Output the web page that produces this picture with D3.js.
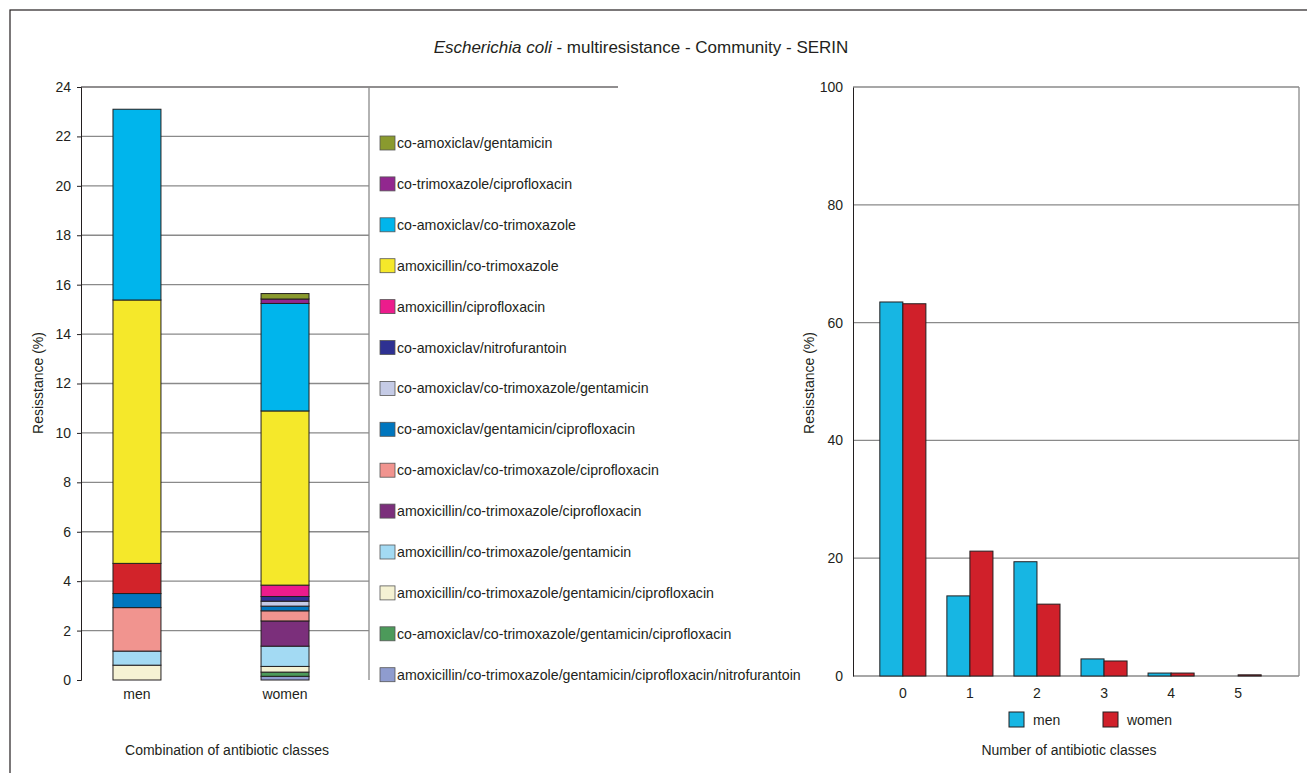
<!DOCTYPE html>
<html>
<head>
<meta charset="utf-8">
<script src="https://cdn.jsdelivr.net/npm/d3@7"></script>
<style>
  body { margin: 0; background: #fff; }
  text { font-family: "Liberation Sans", Arial, sans-serif; fill: #231f20; }
</style>
</head>
<body>
<svg id="chart" width="1307" height="773"></svg>
<script>
// left chart: stacked combinations (bottom to top)
let groups = ['men', 'women'];
let comboNames = [
  'amoxicillin/co-trimoxazole/gentamicin/ciprofloxacin/nitrofurantoin',
  'co-amoxiclav/co-trimoxazole/gentamicin/ciprofloxacin',
  'amoxicillin/co-trimoxazole/gentamicin/ciprofloxacin',
  'amoxicillin/co-trimoxazole/gentamicin',
  'amoxicillin/co-trimoxazole/ciprofloxacin',
  'co-amoxiclav/co-trimoxazole/ciprofloxacin',
  'co-amoxiclav/gentamicin/ciprofloxacin',
  '',  // red segment, no legend entry in the original
  'co-amoxiclav/co-trimoxazole/gentamicin',
  'co-amoxiclav/nitrofurantoin',
  'amoxicillin/ciprofloxacin',
  'amoxicillin/co-trimoxazole',
  'co-amoxiclav/co-trimoxazole',
  'co-trimoxazole/ciprofloxacin',
  'co-amoxiclav/gentamicin'
];
let comboColors = ['#8f9ccf', '#4c9a5a', '#f5f2d3', '#a3daf3', '#7b2f7b', '#f1948f', '#0076be', '#d2232a',
  '#c5cbe6', '#2e3192', '#ec1c8c', '#f5e82a', '#00b5ec', '#92278f', '#8a9a2e'];
let menValues   = [0, 0, 0.6, 0.57, 0, 1.76, 0.57, 1.22, 0, 0, 0, 10.66, 7.72, 0, 0];
let womenValues = [0.15, 0.17, 0.23, 0.82, 1.02, 0.41, 0.19, 0, 0.2, 0.19, 0.46, 7.05, 4.35, 0.18, 0.22];
let leftTicks = [0, 2, 4, 6, 8, 10, 12, 14, 16, 18, 20, 22, 24];

// right chart: number of classes
let classCounts = ['0', '1', '2', '3', '4', '5'];
let menByCount   = [63.5, 13.6, 19.4, 2.9, 0.5, 0];
let womenByCount = [63.2, 21.2, 12.2, 2.55, 0.5, 0.2];
let rightTicks = [0, 20, 40, 60, 80, 100];
let sexColors = ['#17b6e3', '#d0202a'];

let svg = d3.select('#chart');

// outer frame (runs off the right and bottom edges)
svg.append('rect').attr('x', 10).attr('y', 10).attr('width', 1320).attr('height', 800)
  .attr('fill', 'none').attr('stroke', '#231f20').attr('stroke-width', 1.2);

let title = svg.append('text').attr('x', 641).attr('y', 53).attr('text-anchor', 'middle')
  .style('font-size', '17px');
title.append('tspan').style('font-style', 'italic').text('Escherichia coli');
title.append('tspan').text(' - multiresistance - Community - SERIN');

// ---------- left chart ----------
let y1 = d3.scaleLinear().domain([0, 24]).range([680, 87]);
let x1 = d3.scaleBand().domain(groups).range([81, 341]).paddingInner(0.676).paddingOuter(0.216);

let left = svg.append('g');
left.selectAll('line.grid').data(leftTicks.slice(1, -1)).enter().append('line')
  .attr('x1', 81).attr('x2', 369).attr('y1', d => y1(d)).attr('y2', d => y1(d))
  .attr('stroke', '#8a8a8a').attr('stroke-width', 1.3);
left.append('line').attr('x1', 81).attr('x2', 618).attr('y1', y1(24)).attr('y2', y1(24))
  .attr('stroke', '#231f20').attr('stroke-width', 1.2);
left.append('line').attr('x1', 369).attr('x2', 369).attr('y1', y1(24)).attr('y2', y1(0))
  .attr('stroke', '#8a8a8a').attr('stroke-width', 1.3);

let yAxis1 = left.append('g').attr('transform', 'translate(81,0)')
  .call(d3.axisLeft(y1).tickValues(leftTicks).tickSize(4).tickPadding(6));
yAxis1.select('.domain').attr('stroke', '#231f20');
yAxis1.selectAll('.tick line').attr('stroke', '#231f20');
yAxis1.selectAll('text').style('font-size', '14px').style('font-family', 'Liberation Sans, Arial, sans-serif').attr('fill', '#231f20');

// each group's segments sit on the running total of the ones below
groups.forEach(function (g) {
  let vals = g === 'men' ? menValues : womenValues;
  let tops = d3.cumsum(vals);
  let segs = vals.map((v, i) => ({ v: v, i: i, top: tops[i] })).filter(s => s.v > 0);
  left.selectAll(null).data(segs).enter().append('rect')
    .attr('x', x1(g)).attr('width', x1.bandwidth())
    .attr('y', s => y1(s.top))
    .attr('height', s => y1(s.top - s.v) - y1(s.top))
    .attr('fill', s => comboColors[s.i])
    .attr('stroke', '#231f20').attr('stroke-width', 1);
});
left.selectAll('text.cat').data(groups).enter().append('text')
  .attr('x', d => x1(d) + x1.bandwidth() / 2).attr('y', 699).attr('text-anchor', 'middle')
  .style('font-size', '14px').text(d => d);

left.append('text').attr('transform', 'translate(43,383) rotate(-90)').attr('text-anchor', 'middle')
  .style('font-size', '14px').text('Resisstance (%)');
left.append('text').attr('x', 227).attr('y', 755).attr('text-anchor', 'middle')
  .style('font-size', '14px').text('Combination of antibiotic classes');

// legend (top = last stacked)
let legendItems = comboNames.map((n, i) => ({ n: n, i: i })).filter(d => d.n !== '').reverse();
let legend = left.selectAll('g.leg').data(legendItems).enter().append('g')
  .attr('transform', (d, k) => 'translate(380,' + (136 + k * 40.9) + ')');
legend.append('rect').attr('width', 15).attr('height', 14)
  .attr('fill', d => comboColors[d.i]).attr('stroke', '#555').attr('stroke-width', 0.8);
legend.append('text').attr('x', 17).attr('y', 12).style('font-size', '14.2px').text(d => d.n);

// ---------- right chart ----------
let y2 = d3.scaleLinear().domain([0, 100]).range([676, 87]);
let x2 = d3.scaleBand().domain(classCounts).range([853, 1288]).paddingInner(0.313).paddingOuter(0.4);
let xs = d3.scaleBand().domain(groups).range([0, x2.bandwidth()]);

let right = svg.append('g');
right.selectAll('line.grid').data(rightTicks.slice(1)).enter().append('line')
  .attr('x1', 853).attr('x2', 1299).attr('y1', d => y2(d)).attr('y2', d => y2(d))
  .attr('stroke', '#8a8a8a').attr('stroke-width', 1.3);
right.append('line').attr('x1', 1299).attr('x2', 1299).attr('y1', y2(100)).attr('y2', y2(0))
  .attr('stroke', '#8a8a8a').attr('stroke-width', 1.3);
right.append('line').attr('x1', 853).attr('x2', 1299).attr('y1', y2(0)).attr('y2', y2(0))
  .attr('stroke', '#8a8a8a').attr('stroke-width', 1.3);

let yAxis2 = right.append('g').attr('transform', 'translate(853,0)')
  .call(d3.axisLeft(y2).tickValues(rightTicks).tickSize(0).tickPadding(10));
yAxis2.select('.domain').attr('stroke', '#231f20');
yAxis2.selectAll('text').style('font-size', '14px').style('font-family', 'Liberation Sans, Arial, sans-serif').attr('fill', '#231f20');

let countRows = classCounts.map((c, i) => ({ c: c, men: menByCount[i], women: womenByCount[i] }));
let bars = right.selectAll('g.grp').data(countRows).enter().append('g')
  .attr('transform', d => 'translate(' + x2(d.c) + ',0)');
bars.selectAll('rect').data(d => groups.map((g, k) => ({ g: g, v: d[g], k: k })).filter(e => e.v > 0))
  .enter().append('rect')
  .attr('x', e => xs(e.g)).attr('width', xs.bandwidth())
  .attr('y', e => y2(e.v)).attr('height', e => y2(0) - y2(e.v))
  .attr('fill', e => sexColors[e.k]).attr('stroke', '#231f20').attr('stroke-width', 1);

right.selectAll('text.cnt').data(classCounts).enter().append('text')
  .attr('x', d => x2(d) + x2.bandwidth() / 2).attr('y', 698).attr('text-anchor', 'middle')
  .style('font-size', '14px').text(d => d);

let legend2 = right.selectAll('g.leg2').data(groups).enter().append('g')
  .attr('transform', (d, k) => 'translate(' + (1009 + k * 94) + ',712)');
legend2.append('rect').attr('width', 15).attr('height', 15)
  .attr('fill', (d, k) => sexColors[k]).attr('stroke', '#231f20').attr('stroke-width', 1);
legend2.append('text').attr('x', 24).attr('y', 13)
  .style('font-size', '14px').text(d => d);

right.append('text').attr('transform', 'translate(814,383) rotate(-90)').attr('text-anchor', 'middle')
  .style('font-size', '14px').text('Resisstance (%)');
right.append('text').attr('x', 1069).attr('y', 755).attr('text-anchor', 'middle')
  .style('font-size', '14px').text('Number of antibiotic classes');
</script>
</body>
</html>
